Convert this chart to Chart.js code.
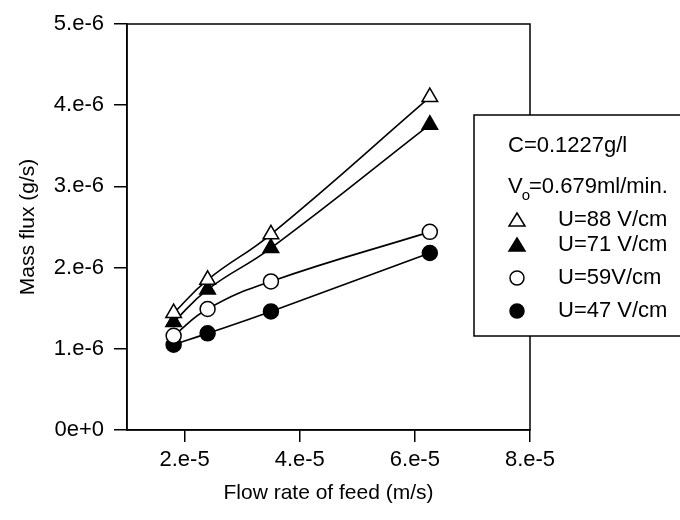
<!DOCTYPE html>
<html>
<head>
<meta charset="utf-8">
<script src="https://cdn.jsdelivr.net/npm/chart.js@4"></script>
<style>
  html, body { margin: 0; padding: 0; background: #fff; }
  #wrap { width: 680px; height: 520px; }
</style>
</head>
<body>
<div id="wrap"><canvas id="chart" width="680" height="520"></canvas></div>
<script>
// Flow rate of feed (m/s)
const flowRate = [1.81e-5, 2.40e-5, 3.50e-5, 6.26e-5];

// Mass flux (g/s) for each field strength
const u88 = [1.44e-6, 1.85e-6, 2.41e-6, 4.10e-6];
const u71 = [1.33e-6, 1.73e-6, 2.24e-6, 3.76e-6];
const u59 = [1.16e-6, 1.49e-6, 1.83e-6, 2.44e-6];
const u47 = [1.05e-6, 1.19e-6, 1.46e-6, 2.18e-6];

const seriesLabels = ["U=88 V/cm", "U=71 V/cm", "U=59V/cm", "U=47 V/cm"];

// ticks
const xTicks = [2e-5, 4e-5, 6e-5, 8e-5];
const xTickLabels = ["2.e-5", "4.e-5", "6.e-5", "8.e-5"];
const yTicks = [0, 1e-6, 2e-6, 3e-6, 4e-6, 5e-6];
const yTickLabels = ["0e+0", "1.e-6", "2.e-6", "3.e-6", "4.e-6", "5.e-6"];

const FONT = "'Liberation Sans', Arial, sans-serif";

function points(ys) {
  return flowRate.map((x, i) => ({ x: x, y: ys[i] }));
}

const styles = [
  { style: 'triangle', fill: '#fff', r: 9 },
  { style: 'triangle', fill: '#000', r: 9 },
  { style: 'circle', fill: '#fff', r: 7.5 },
  { style: 'circle', fill: '#000', r: 7.5 }
];

const datasets = [u88, u71, u59, u47].map((ys, i) => ({
  label: seriesLabels[i],
  data: points(ys),
  borderColor: '#000',
  borderWidth: 1.6,
  tension: 0.45,
  pointStyle: styles[i].style,
  pointRadius: styles[i].r,
  pointBackgroundColor: styles[i].fill,
  pointBorderColor: '#000',
  pointBorderWidth: 1.5,
  fill: false
}));

// frame around the plot area (top and right sides)
const framePlugin = {
  id: 'frame',
  beforeDatasetsDraw(chart) {
    const a = chart.chartArea;
    const ctx = chart.ctx;
    ctx.save();
    ctx.strokeStyle = '#000';
    ctx.lineWidth = 1.5;
    ctx.strokeRect(a.left, a.top, a.right - a.left, a.bottom - a.top);
    ctx.restore();
  }
};

// boxed legend on the right, partly cut by the page edge
const legendBox = {
  id: 'legendBox',
  afterDraw(chart) {
    const ctx = chart.ctx;
    ctx.save();
    ctx.fillStyle = '#fff';
    ctx.strokeStyle = '#000';
    ctx.lineWidth = 1.5;
    ctx.fillRect(474, 115, 230, 221);
    ctx.strokeRect(474, 115, 230, 221);

    ctx.fillStyle = '#000';
    ctx.font = "22px " + FONT;
    ctx.textBaseline = 'middle';
    ctx.textAlign = 'left';
    ctx.fillText("C=0.1227g/l", 508, 146);

    ctx.fillText("V", 508, 187);
    let w = ctx.measureText("V").width;
    ctx.font = "15px " + FONT;
    ctx.fillText("o", 508 + w - 1, 196);
    let w2 = ctx.measureText("o").width;
    ctx.font = "22px " + FONT;
    ctx.fillText("=0.679ml/min.", 508 + w + w2 - 2, 187);

    const rows = [220, 245, 278, 311];
    rows.forEach((y, i) => {
      const s = styles[i];
      ctx.beginPath();
      if (s.style === 'triangle') {
        ctx.moveTo(517, y - 7);
        ctx.lineTo(525, y + 6);
        ctx.lineTo(509, y + 6);
        ctx.closePath();
      } else {
        ctx.arc(517, y, 7, 0, Math.PI * 2);
      }
      ctx.fillStyle = s.fill;
      ctx.fill();
      ctx.stroke();
      ctx.fillStyle = '#000';
      ctx.fillText(seriesLabels[i], 558, y);
    });
    ctx.restore();
  }
};

new Chart(document.getElementById('chart'), {
  type: 'line',
  data: { datasets: datasets },
  options: {
    responsive: false,
    animation: false,
    layout: { padding: { top: 24, right: 150, left: 0, bottom: 0 } },
    plugins: {
      legend: { display: false },
      tooltip: { enabled: false }
    },
    scales: {
      x: {
        type: 'linear',
        min: 1e-5,
        max: 8e-5,
        afterFit: s => { s.height = 90; },
        afterBuildTicks: s => { s.ticks = xTicks.map(v => ({ value: v })); },
        border: { display: true, color: '#000', width: 1.5 },
        grid: { drawOnChartArea: false, drawTicks: true, tickLength: 12, color: '#000', lineWidth: 1.5 },
        ticks: {
          color: '#000',
          font: { family: FONT, size: 22 },
          padding: 5,
          maxRotation: 0,
          callback: (v) => xTickLabels[xTicks.indexOf(v)]
        },
        title: {
          display: true,
          text: 'Flow rate of feed (m/s)',
          color: '#000',
          font: { family: FONT, size: 21 },
          padding: { top: 0, bottom: 14 }
        }
      },
      y: {
        type: 'linear',
        min: 0,
        max: 5e-6,
        afterFit: s => { s.width = 127; },
        afterBuildTicks: s => { s.ticks = yTicks.map(v => ({ value: v })); },
        border: { display: true, color: '#000', width: 1.5 },
        grid: { drawOnChartArea: false, drawTicks: true, tickLength: 13, color: '#000', lineWidth: 1.5 },
        ticks: {
          color: '#000',
          font: { family: FONT, size: 22 },
          padding: 10,
          callback: (v) => yTickLabels[yTicks.indexOf(v)]
        },
        title: {
          display: true,
          text: 'Mass flux (g/s)',
          color: '#000',
          font: { family: FONT, size: 21 },
          padding: { top: 16, bottom: 0 }
        }
      }
    }
  },
  plugins: [framePlugin, legendBox]
});
</script>
</body>
</html>
